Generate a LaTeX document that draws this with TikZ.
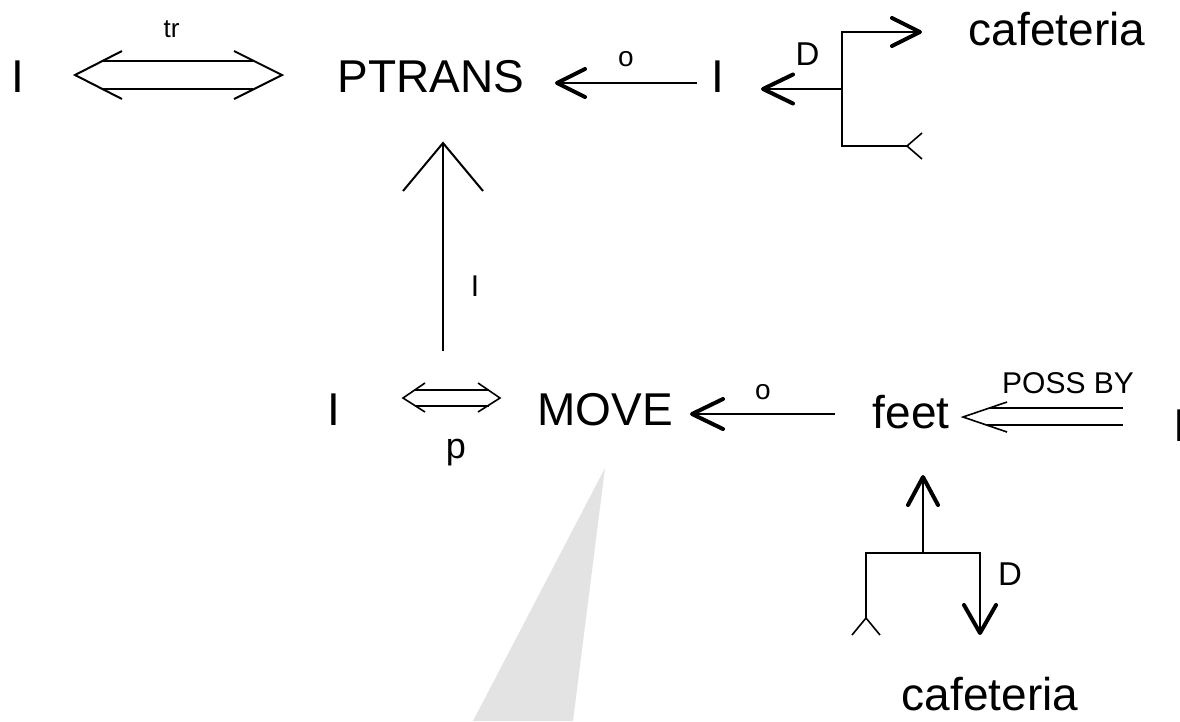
\documentclass[tikz,border=0pt]{standalone}
\usepackage{fontspec}
\setmainfont{Liberation Sans}
\begin{document}
\begin{tikzpicture}[x=1pt,y=-1pt,
  big/.style={font=\fontsize{46}{50}\selectfont, inner sep=0pt, anchor=base},
  lbl/.style={font=\fontsize{30}{34}\selectfont, inner sep=0pt, anchor=base},
  circ/.style={font=\fontsize{28}{30}\selectfont, inner sep=0pt},
  ln/.style={line width=2pt},
  thinln/.style={line width=1.6pt, line join=miter},
  headthick/.style={line width=4pt, line cap=round, line join=round},
  shade/.style={fill=black!11}
]
\useasboundingbox (0,0) rectangle (1180,721);
% grey beam
\fill[shade] (605,468) -- (473,721) -- (573,721) -- cycle;

% main texts
\node[big] (i1) at (18,92) {I};
\node[big] (ptrans) at (431,92) {PTRANS};
\node[big] (i2) at (717.5,92) {I};
\node[big] (caf1) at (1057,45) {cafeteria};
\node[big] (i3) at (333.5,425) {I};
\node[big] (move) at (605,425) {MOVE};
\node[big] (feet) at (911,428) {feet};
\node[big,anchor=base west] (i4) at (1173.7,441) {I};
\node[big] (caf2) at (990,710) {cafeteria};

% labels
\node[font=\fontsize{26}{28}\selectfont, inner sep=0pt, anchor=base] (tr) at (171.5,37) {tr};
\node[circ] (o1) at (626,59) {o};
\node[circ] (o2) at (763,392) {o};
\node[font=\fontsize{33}{36}\selectfont, inner sep=0pt, anchor=base] (d1) at (807.5,65) {D};
\node[font=\fontsize{33}{36}\selectfont, inner sep=0pt, anchor=base] (d2) at (1010,585) {D};
\node[lbl] (li) at (475,296) {I};
\node[font=\fontsize{36}{40}\selectfont, inner sep=0pt, anchor=base] (p) at (456,458) {p};
\node[lbl] (poss) at (1068,393) {POSS BY};

% coordinates
\coordinate (trL) at (75,75);
\coordinate (trR) at (282,75);
\coordinate (aPT) at (557,83);
\coordinate (aPTs) at (697,83);
\coordinate (brT) at (842,32);
\coordinate (brM) at (842,89);
\coordinate (brB) at (842,146);
\coordinate (brTip) at (920,32);
\coordinate (brMtip) at (763,89);
\coordinate (brFork) at (907,146);
\coordinate (vBot) at (443,351);
\coordinate (vTip) at (443,143);
\coordinate (pL) at (403,398);
\coordinate (pR) at (500,398);
\coordinate (aMV) at (692,414);
\coordinate (aMVs) at (835,414);
\coordinate (psTip) at (963,417);
\coordinate (fUp) at (923,477);
\coordinate (fJ) at (923,553);
\coordinate (bbL) at (866,553);
\coordinate (bbR) at (980,553);
\coordinate (bbFork) at (866,618);
\coordinate (bbTip) at (980,633);

% tr double arrow
\draw[ln] (103,61) -- (253,61) (103,89) -- (253,89);
\draw[ln] (trL) ++(47,-24) -- (trL) -- ++(47,24);
\draw[ln] (trR) ++(-48,-24) -- (trR) -- ++(-48,24);

% PTRANS <- I
\draw[ln] (aPTs) -- (aPT);
\draw[headthick] (aPT) ++(28,-14) -- (aPT) -- ++(28,14);

% right bracket (top)
\draw[ln] (brTip) -- (brT) -- (brB) -- (brFork);
\draw[ln] (brM) -- (brMtip);
\draw[headthick] (brTip) ++(-28,-14) -- (brTip) -- ++(-28,14);
\draw[headthick] (brMtip) ++(30,-14.5) -- (brMtip) -- ++(30,14.5);
\draw[thinln] (brFork) ++(15,-13) -- (brFork) -- ++(15,13);

% vertical arrow MOVE -> PTRANS
\draw[ln] (vBot) -- (vTip);
\draw[ln] (vTip) ++(-40,48) -- (vTip) -- ++(40,48);

% p double arrow
\draw[thinln] (414.5,390) -- (488.5,390) (414.5,406) -- (488.5,406);
\draw[thinln] (pL) ++(22,-15) -- (pL) -- ++(22,14);
\draw[thinln] (pR) ++(-22,-15) -- (pR) -- ++(-22,14);

% MOVE <- feet
\draw[ln] (aMVs) -- (aMV);
\draw[headthick] (aMV) ++(31,-15) -- (aMV) -- ++(31,15);

% POSS BY double arrow
\draw[thinln] (989,408) -- (1123,408) (986.5,425) -- (1123,425);
\draw[thinln] (psTip) ++(44,-15) -- (psTip) -- ++(44,15);

% bottom bracket
\draw[ln] (fJ) -- (fUp);
\draw[headthick] (fUp) ++(-15,28) -- (fUp) -- ++(15,28);
\draw[ln] (bbFork) -- (bbL) -- (bbR) -- (bbTip);
\draw[headthick] (bbTip) ++(-16,-28) -- (bbTip) -- ++(16,-28);
\draw[thinln] (bbFork) ++(-14,17) -- (bbFork) -- ++(14,17);
\end{tikzpicture}
\end{document}
